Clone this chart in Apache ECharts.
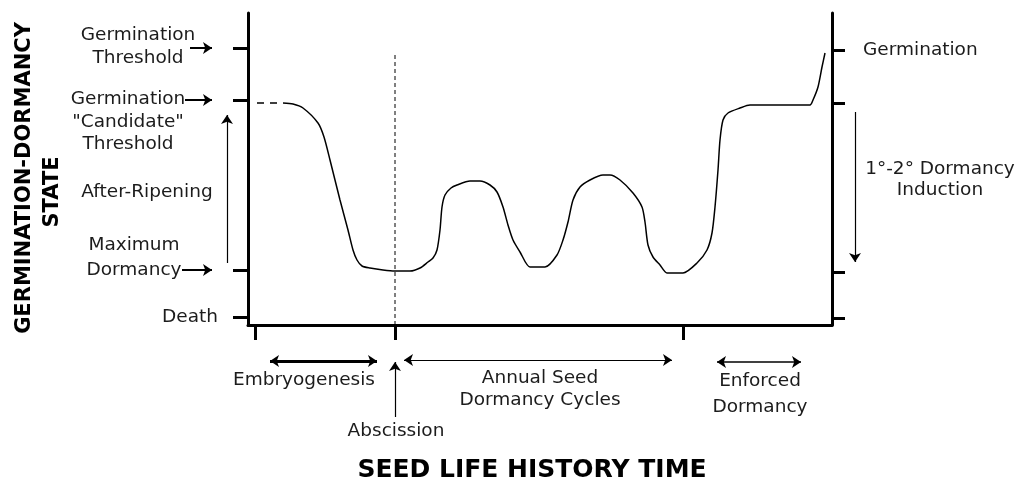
<!DOCTYPE html>
<html><head><meta charset="utf-8">
<script src="https://cdn.jsdelivr.net/npm/echarts@6/dist/echarts.min.js"></script>
<style>html,body{margin:0;padding:0;background:#fff}#c{width:1016px;height:480px}</style>
</head><body><div id="c"></div>
<script>
// ---- data (arbitrary time units / arbitrary state units) ----
const timeValues  = [35,45,55,70,76,82,92,100,105,109,114,122,135,147,162,172,180,185,189,192,194,197,203,209,222,232,242,249,255,260,265,272,282,297,309,315,320,325,332,342,355,362,372,385,394,397,400,405,412,419,435,449,459,464,467,470,472,475,480,492,502,562,565,570,574,577];
const stateValues = [222,221,217,202,188,165,125,95,75,65,59,57,55,54,54,57,63,67,75,95,118,130,137,140,144,144,140,133,118,100,85,73,58,58,70,85,103,125,138,145,150,150,145,132,118,103,80,68,60,52,52,62,75,92,118,155,185,205,212,217,220,220,225,238,258,272];
const earlyTime  = [9, 34];
const earlyState = [222, 222];

const leftTickValues  = [8, 55, 225, 277];
const leftTickLabels  = ['Death', 'Maximum\nDormancy', 'Germination\n"Candidate"\nThreshold', 'Germination\nThreshold'];
const rightTickValues = [7, 53, 222, 275];
const rightTickLabels = ['', '', '', 'Germination'];
const timeTickValues  = [7, 147, 435];

const abscissionTime = 147;
const abscissionTop  = 272;
const embryogenesisSpan = [22, 129];
const annualCyclesSpan  = [156, 424];
const enforcedSpan      = [469, 553];
const afterRipeningSpan = [62, 210];
const inductionSpan     = [213, 63];

const phaseNames = ['Embryogenesis', 'Abscission', 'Annual Seed\nDormancy Cycles', 'Enforced\nDormancy', 'After-Ripening', '1°-2° Dormancy\nInduction'];

// ---- layout / styling ----
const FONT = 'DejaVu Sans', FS = 18.5, TXT = '#1c1c1c';
const base = {fontFamily: FONT, fontSize: FS, color: TXT};
const belowY = -36;          // y of the bottom annotation arrows (state units, below axis)
const arrowTipX = -36;       // tip of the left label arrows
const labelShift = [0, 12.5, -22, 1.5];   // vertical placement of the multi-line left labels
const leftLabelPos = leftTickValues.map((v, i) => v + labelShift[i]);
const leftLabelStyle = ['d', 'c', 'b', 'a'];

const chart = echarts.init(document.getElementById('c'), null, {renderer: 'canvas'});

function leftLabel(v) {
  const i = leftLabelPos.indexOf(v);
  if (i < 0) return '';
  const k = leftLabelStyle[i];
  return leftTickLabels[i].split('\n').map(l => '{' + k + '|' + l + '}').join('\n');
}

const lineAxisStyle = {color: '#000', width: 3};

const option = {
  animation: false,
  backgroundColor: '#fff',
  grid: {left: 248, right: 184, top: 13, bottom: 155, containLabel: false, outerBoundsMode: 'none'},
  xAxis: {
    type: 'value', min: 0, max: 584,
    axisLine: {show: true, onZero: false, lineStyle: lineAxisStyle},
    axisTick: {show: true, customValues: timeTickValues, length: 15, lineStyle: lineAxisStyle},
    axisLabel: {show: false},
    splitLine: {show: false},
    name: 'SEED LIFE HISTORY TIME', nameLocation: 'middle', nameGap: 133, nameMoveOverlap: false,
    nameTextStyle: {fontFamily: FONT, fontWeight: 'bold', fontSize: 25, color: '#000', padding: [0, 16, 0, 0]}
  },
  yAxis: [{
    type: 'value', min: 0, max: 312, position: 'left',
    axisLine: {show: true, onZero: false, lineStyle: lineAxisStyle},
    axisTick: {show: true, customValues: leftTickValues, length: 15, lineStyle: lineAxisStyle},
    axisLabel: {
      customValues: leftLabelPos, margin: 30, formatter: leftLabel, hideOverlap: false,
      rich: {
        a: Object.assign({width: 160, align: 'center', lineHeight: 23}, base),
        b: Object.assign({width: 180, align: 'center', lineHeight: 22.5}, base),
        c: Object.assign({width: 168, align: 'center', lineHeight: 25}, base),
        d: Object.assign({width: 60, align: 'right', lineHeight: 23}, base)
      }
    },
    splitLine: {show: false},
    name: '{n1|GERMINATION-DORMANCY}\n{n2|STATE}', nameLocation: 'middle', nameRotate: 90, nameGap: 181,
    nameMoveOverlap: false,
    nameTextStyle: {
      rich: {
        n1: {fontFamily: FONT, fontWeight: 'bold', fontSize: 21, color: '#000', lineHeight: 28, padding: [0, 18, 0, 0]},
        n2: {fontFamily: FONT, fontWeight: 'bold', fontSize: 21, color: '#000', lineHeight: 28, padding: [0, 46, 0, 0]}
      }
    }
  }, {
    type: 'value', min: 0, max: 312, position: 'right',
    axisLine: {show: true, onZero: false, lineStyle: lineAxisStyle},
    axisTick: {show: true, customValues: rightTickValues, length: 13, lineStyle: lineAxisStyle},
    axisLabel: {
      customValues: [rightTickValues[3]], margin: 31,
      formatter: v => rightTickLabels[rightTickValues.indexOf(v)] || '',
      fontFamily: FONT, fontSize: FS, color: TXT
    },
    splitLine: {show: false}
  }],
  series: [
    {
      type: 'line', name: 'state', showSymbol: false, symbol: 'none', smooth: 0.25,
      data: timeValues.map((t, i) => [t, stateValues[i]]),
      lineStyle: {color: '#000', width: 1.5}
    },
    {
      type: 'line', name: 'early', showSymbol: false, symbol: 'none',
      data: earlyTime.map((t, i) => [t, earlyState[i]]),
      lineStyle: {color: '#000', width: 1.5, type: [7, 6]}
    },
    {
      type: 'line', name: 'abscission', showSymbol: false, symbol: 'none',
      data: [[abscissionTime, 0], [abscissionTime, abscissionTop]],
      lineStyle: {color: '#000', width: 1, type: [4, 3]}
    },
    {
      type: 'lines', coordinateSystem: 'cartesian2d', clip: false, silent: true,
      symbol: ['none', 'arrow'], symbolSize: 9,
      lineStyle: {color: '#000', width: 1.2, opacity: 1, curveness: 0},
      data: [
        {coords: [[-58, leftTickValues[3]], [arrowTipX, leftTickValues[3]]], lineStyle: {width: 2}},
        {coords: [[-63, leftTickValues[2]], [arrowTipX, leftTickValues[2]]], lineStyle: {width: 2}},
        {coords: [[-66, leftTickValues[1]], [arrowTipX, leftTickValues[1]]], lineStyle: {width: 2}},
        {coords: [[-21, afterRipeningSpan[0]], [-21, afterRipeningSpan[1]]]},
        {coords: [[607, inductionSpan[0]], [607, inductionSpan[1]]]},
        {coords: [[abscissionTime, -92], [abscissionTime, belowY - 1]]}
      ]
    },
    {
      type: 'lines', coordinateSystem: 'cartesian2d', clip: false, silent: true,
      symbol: ['arrow', 'arrow'], symbolSize: 9,
      lineStyle: {color: '#000', width: 1.2, opacity: 1, curveness: 0},
      data: [
        {coords: [[embryogenesisSpan[0], belowY], [embryogenesisSpan[1], belowY]], lineStyle: {width: 3}},
        {coords: [[annualCyclesSpan[0], belowY + 1], [annualCyclesSpan[1], belowY + 1]]},
        {coords: [[enforcedSpan[0], belowY - 1], [enforcedSpan[1], belowY - 1]], lineStyle: {width: 1.6}}
      ]
    },
    {
      type: 'scatter', clip: false, silent: true, symbolSize: 0,
      itemStyle: {opacity: 1},
      label: {show: true, position: 'inside', formatter: '{b}', fontFamily: FONT, fontSize: FS, color: TXT, align: 'center', verticalAlign: 'middle'},
      data: [
        {name: phaseNames[0], value: [56, -55]},
        {name: phaseNames[1], value: [148, -106]},
        {name: phaseNames[2], value: [292, -64], label: {lineHeight: 22}},
        {name: phaseNames[3], value: [512, -69], label: {lineHeight: 26}},
        {name: phaseNames[4], value: [-101, 133]},
        {name: phaseNames[5], value: [692, 145], label: {lineHeight: 21}}
      ]
    }
  ]
};
chart.setOption(option);
</script>
</body></html>
